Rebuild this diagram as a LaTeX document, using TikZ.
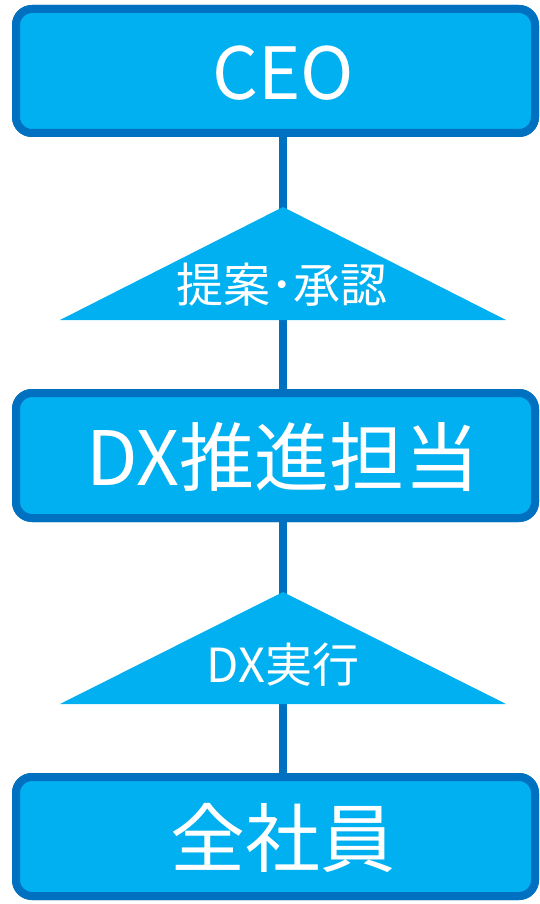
\documentclass[tikz,border=0pt]{standalone}
\usepackage{fontspec}
\setmainfont{Noto Sans CJK JP}
\definecolor{boxfill}{HTML}{00B0F0}
\definecolor{boxline}{HTML}{0070C0}
\begin{document}
\begin{tikzpicture}[x=1pt,y=-1pt,
  orgbox/.style={draw=boxline,line width=8pt,fill=boxfill,rounded corners=16pt,
    minimum width=519pt,inner sep=0pt,outer sep=0pt},
  bigtxt/.style={text=white,font=\fontsize{75}{77}\selectfont,inner sep=0pt},
  ceotxt/.style={text=white,font=\fontsize{72}{74}\selectfont,inner sep=0pt},
  tritxt/.style={text=white,font=\fontsize{47}{49}\selectfont,inner sep=0pt},
  conn/.style={draw=boxline,line width=7.5pt},
  tri/.style={fill=boxfill}]
\useasboundingbox (0,0) rectangle (539,904);
% boxes (named, for the connectors)
\path (275.5,71) node[orgbox,minimum height=124pt] (ceo) {};
\path (275.5,455.5) node[orgbox,minimum height=125pt] (dx) {};
\path (275.5,836.5) node[orgbox,minimum height=119pt] (all) {};
% connectors
\coordinate (mid) at (283,0);
\draw[conn] (ceo.south -| mid) -- (dx.north -| mid);
\draw[conn] (dx.south -| mid) -- (all.north -| mid);
% triangles
\fill[tri] (283,207) -- (506,320) -- (60,320) -- cycle;
\fill[tri] (283,592) -- (506,704) -- (60,704) -- cycle;
% boxes again on top of the connectors
\path (275.5,71) node[orgbox,minimum height=124pt] {};
\path (275.5,455.5) node[orgbox,minimum height=125pt] {};
\path (275.5,836.5) node[orgbox,minimum height=119pt] {};
% texts
\node[ceotxt] (tceo) at (283,73) {CEO};
\node[bigtxt] (tdx) at (283,457) {DX推進担当};
\node[bigtxt] (tall) at (283,838) {全社員};
\node[tritxt] (t1) at (282,285) {提案･承認};
\node[tritxt] (t2) at (283,665) {DX実行};
\end{tikzpicture}
\end{document}
